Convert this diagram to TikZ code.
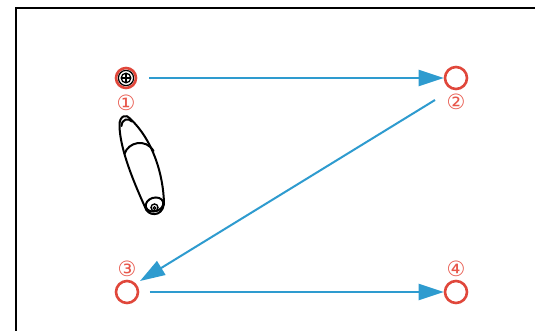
\documentclass[tikz,border=0pt]{standalone}
\usepackage{fontspec}
\newfontfamily\dejavu{DejaVu Sans}
\usetikzlibrary{arrows.meta,calc}
\definecolor{ringred}{HTML}{E0473B}
\definecolor{labred}{HTML}{E8574B}
\definecolor{arrblue}{HTML}{2E9BCF}
\tikzset{
  ring/.style={circle,draw=ringred,line width=2.6pt,inner sep=0pt,minimum size=22pt},
  lab/.style={text=labred,inner sep=0pt,font=\dejavu\fontsize{21}{21}\selectfont},
  conn/.style={draw=arrblue,line width=2pt,-{Triangle[length=25pt,width=16pt]}},
  penline/.style={line width=2pt,line join=round,line cap=round}
}
\begin{document}
\begin{tikzpicture}[x=1pt,y=-1pt]
\useasboundingbox (0,0) rectangle (535,331);
\fill[white] (0,0) rectangle (535,331);
% frame
\draw[line width=1.6pt] (16,331) -- (16,8) -- (535,8);
% nodes
\node[ring,minimum size=20pt] (n1) at (126,78) {};
\draw[line width=1.2pt] (n1.center) circle[radius=7.6];
\draw[line width=1.3pt] (n1.center) circle[radius=4.8];
\draw[line width=1.1pt] ($(n1.center)+(-4.8,0)$) -- ($(n1.center)+(4.8,0)$);
\draw[line width=1.1pt] ($(n1.center)+(0,-4.8)$) -- ($(n1.center)+(0,4.8)$);
\node[ring] (n2) at (456,78) {};
\node[ring] (n3) at (127,292) {};
\node[ring] (n4) at (456,292) {};
% labels
\node[lab] (l1) at (126,103) {①};
\node[lab] (l2) at (456,102) {②};
\node[lab] (l3) at (127,269) {③};
\node[lab] (l4) at (456,269) {④};
% connectors
\draw[conn,shorten <=12pt] (n1) -- (n2);
\draw[conn] ($(n2.center)+(-21,22)$) -- ($(n3.center)+(13,-11)$);
\draw[conn,shorten <=10.5pt] (n3) -- (n4);
% pen
\draw[penline] (119.5,126) .. controls (120,150) and (135,185) .. (145,207)
  .. controls (147,216) and (162,218) .. (164,204)
  .. controls (163.5,175) and (153,140) .. (130,118.5)
  .. controls (127,114) and (119,115) .. (119.5,126) -- cycle;
\draw[penline] (121.5,126) .. controls (122,119) and (128,117.5) .. (132,121.5);
\draw[penline] (124.5,154) .. controls (128,142) and (146,138) .. (153.5,151);
\draw[penline,rotate around={17.5:(154.5,204.5)}] (154.5,204.5) ellipse[x radius=9,y radius=6.8];
\draw[line width=1.4pt] (154.5,207.5) circle[radius=3.5];
\draw[line width=1.1pt] (154.5,208) circle[radius=1.3];
\end{tikzpicture}
\end{document}
